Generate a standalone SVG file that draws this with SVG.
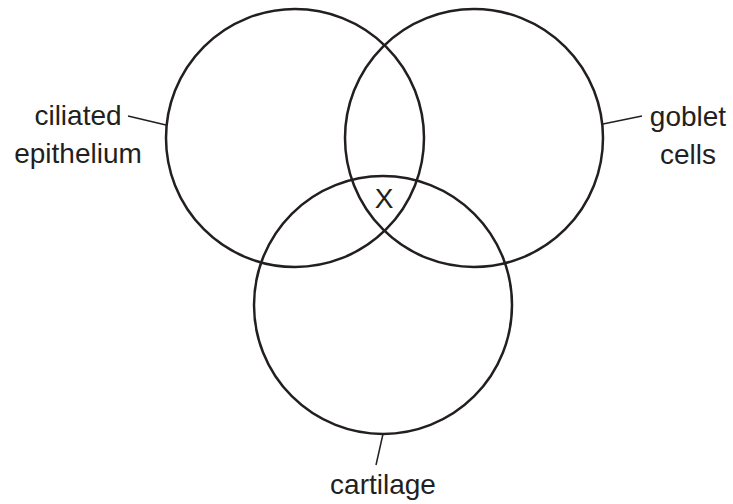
<svg xmlns="http://www.w3.org/2000/svg" width="733" height="504" viewBox="0 0 733 504">
<style>
.c{fill:none;stroke:#231f20;stroke-width:2.5}
.l{fill:none;stroke:#231f20;stroke-width:1.5}
text{font-family:"Liberation Sans",Arial,sans-serif;font-size:28px;fill:#231f20;text-anchor:middle}
</style>
<rect width="733" height="504" fill="#fff"/>
<g id="circle-ciliated"><circle class="c" cx="295" cy="138" r="129"/></g>
<g id="circle-goblet"><circle class="c" cx="474" cy="138" r="129"/></g>
<g id="circle-cartilage"><circle class="c" cx="383" cy="305" r="129"/></g>
<g id="connectors">
<line class="l" x1="128" y1="116" x2="166" y2="125"/>
<line class="l" x1="603" y1="124" x2="642" y2="116"/>
<line class="l" x1="383" y1="434" x2="376" y2="465"/>
</g>
<g id="label-ciliated"><text x="78" y="125">ciliated</text><text x="78" y="163">epithelium</text></g>
<g id="label-goblet"><text x="688" y="126">goblet</text><text x="688" y="164">cells</text></g>
<g id="label-cartilage"><text x="383" y="494">cartilage</text></g>
<g id="label-x"><text x="384" y="208">X</text></g>
</svg>
